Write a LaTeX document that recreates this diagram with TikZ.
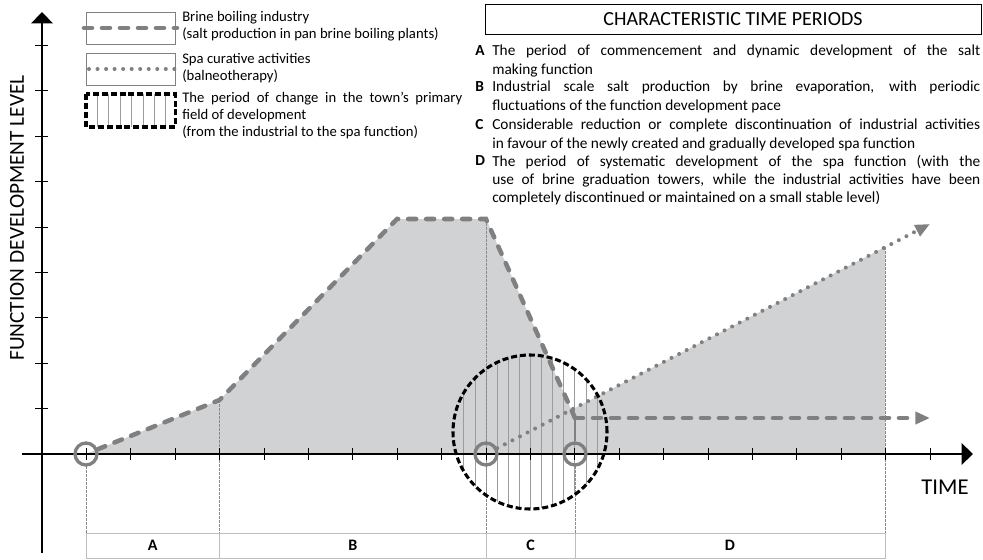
\documentclass[tikz,border=0pt]{standalone}
\usepackage{fontspec}
\setmainfont{Carlito}
\usetikzlibrary{arrows.meta,positioning}
\definecolor{curvegray}{HTML}{808080}
\definecolor{fillgray}{HTML}{D1D2D4}
\definecolor{hatchgray}{HTML}{9C9C9C}
\definecolor{guidegray}{HTML}{8A8A8A}
\definecolor{cellgray}{HTML}{BEBEBE}
\hyphenpenalty=10000

\begin{document}
\begin{tikzpicture}[x=0.75pt, y=-0.75pt,
  axis/.style={black, line width=1.5pt, -{Triangle[length=8.5pt,width=16pt]}},
  tick/.style={black, line width=0.7pt},
  industry/.style={curvegray, line width=3.4pt, line cap=round, dash pattern=on 6pt off 7.5pt},
  spa/.style={curvegray, line width=3pt, line cap=round, dash pattern=on 0pt off 6.4pt},
  grayhead/.style={-{Triangle[length=11pt,width=9pt]}},
  change/.style={black, line width=2.3pt, dash pattern=on 4.5pt off 2.2pt},
  hatch/.style={hatchgray, line width=0.6pt},
  guide/.style={guidegray, line width=0.5pt, dash pattern=on 2pt off 1pt},
  marker/.style={circle, draw=curvegray, line width=2.5pt, minimum size=16.5pt, inner sep=0pt},
  legendbox/.style={draw=gray, line width=0.6pt},
  legendtext/.style={anchor=west, inner sep=0pt, align=left, font=\fontsize{11}{12.75}\selectfont},
  itemtext/.style={anchor=north west, inner sep=0pt, text width=366pt, align=justify, font=\fontsize{11.5}{13.6}\selectfont},
  itemletter/.style={anchor=north west, inner sep=0pt, font=\fontsize{11.5}{13.6}\selectfont\bfseries},
  cellletter/.style={inner sep=0pt, font=\fontsize{12}{14}\selectfont\bfseries}]
\useasboundingbox (0,0) rectangle (983,560);
% Curve points
\coordinate (k1) at (219.5,400);
\coordinate (k2) at (397,219);
\coordinate (k3) at (486,219);
\coordinate (k4) at (575,418);
\coordinate (e1) at (930,418);
\coordinate (s0) at (575,408);
\coordinate (s1) at (885,247);
\coordinate (e2) at (930,224);
% Shaded area
\fill[fillgray] (86,454) -- (k1) -- (k2) -- (k3) -- (k4) -- (s0) -- (s1) -- (885,454) -- cycle;
% Hatching of the change zone
\begin{scope}
\clip (530,432) circle[radius=77];
\foreach \k in {-3,...,10}
  \draw[hatch] ({486+11.1*\k},350) -- ++(0,165);
\end{scope}
% Guide lines
\draw[guide] (86,466) -- (86,533);
\draw[guide] (k1) -- (219.5,533);
\draw[guide] (k3) -- (486,533);
\draw[guide] (575,466) -- (575,533);
\draw[guide] (s1) -- (885,533);
% Axes
\draw[axis] (22,454) -- (973,454);
\draw[axis] (42,553) -- (42,12);
\foreach \k in {1,...,20}
  \draw[tick] ({42+44.4*\k},448) -- ++(0,12);
\foreach \k in {1,...,9}
  \draw[tick] (35,{454-45.4*\k}) -- ++(13,0);
% Period markers
\node[marker] (m1) at (86,454) {};
\node[marker] (m2) at (486,454) {};
\node[marker] (m3) at (575,454) {};
% Curves
\draw[industry] (m1) -- (k1) -- (k2) -- (k3) -- (k4);
\draw[industry, grayhead] (k4) -- (e1);
\draw[curvegray, line width=1.8pt] (k4) -- (m3);
\draw[spa, grayhead] (m2) -- (e2);
\node[circle, change, draw, minimum size=115.5pt, inner sep=0pt] (zone) at (530,432) {};
% Periods
\draw[cellgray, line width=0.6pt] (86,533) rectangle (885,558);
\draw[cellgray, line width=0.6pt] (219.5,533) -- (219.5,558);
\draw[cellgray, line width=0.6pt] (486,533) -- (486,558);
\draw[cellgray, line width=0.6pt] (575,533) -- (575,558);
\node[cellletter] (cA) at (152.75,545.5) {A};
\node[cellletter] (cB) at (352.75,545.5) {B};
\node[cellletter] (cC) at (530.5,545.5) {C};
\node[cellletter] (cD) at (730,545.5) {D};
% Axis labels
\node[rotate=90, inner sep=0pt, font=\fontsize{16}{18}\selectfont] (ylab) at (17,218) {FUNCTION DEVELOPMENT LEVEL};
\node[inner sep=0pt, font=\fontsize{17}{20}\selectfont] (xlab) at (945,487) {TIME};
% Legend
\draw[legendbox] (86,12) rectangle (175.5,44);
\draw[industry] (84,28) -- (177,28);
\draw[legendbox] (86,53) rectangle (175.5,85);
\draw[spa] (89,69) -- (175,69);
\foreach \k in {1,...,7}
  \draw[hatch] ({86+11.4*\k},94) -- ++(0,33);
\draw[change] (86,94) rectangle (175.5,127);
\node[legendtext] (lg1) at (182,26.5) {Brine boiling industry\\(salt production in pan brine boiling plants)};
\node[legendtext] (lg2) at (182,68) {Spa curative activities\\(balneotherapy)};
\node[legendtext, text width=210pt, align=justify] (lg3) at (182,116) {The period of change in the town’s primary\linebreak field of development\\(from the industrial to the spa function)};
% Time periods
\node[draw, line width=0.6pt, minimum width=372pt, minimum height=22.5pt, inner sep=0pt, font=\fontsize{15}{18}\selectfont] (title) at (733,19) {CHARACTERISTIC TIME PERIODS};
\node[itemtext] (tA) at (492,45) {The period of commencement and dynamic development of the salt\linebreak making function};
\node[itemtext] (tB) at (492,81) {Industrial scale salt production by brine evaporation, with periodic\linebreak fluctuations of the function development pace};
\node[itemtext] (tC) at (492,119) {Considerable reduction or complete discontinuation of industrial activities\linebreak in favour of the newly created and gradually developed spa function};
\node[itemtext] (tD) at (492,155) {The period of systematic development of the spa function (with the\linebreak use of brine graduation towers, while the industrial activities have been\linebreak completely discontinued or maintained on a small stable level)};
\node[itemletter] (lA) at (475,45) {A};
\node[itemletter] (lB) at (475,81) {B};
\node[itemletter] (lC) at (475,119) {C};
\node[itemletter] (lD) at (475,155) {D};
\end{tikzpicture}
\end{document}
